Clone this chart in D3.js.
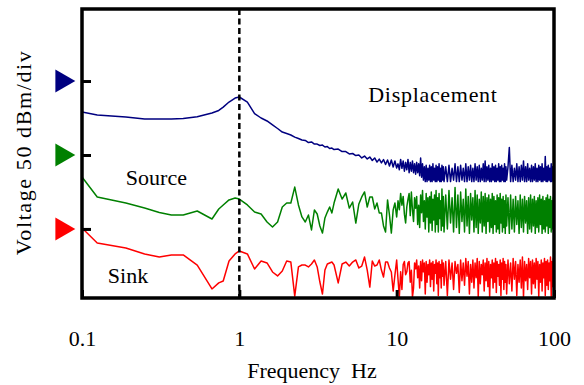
<!DOCTYPE html>
<html>
<head>
<meta charset="utf-8">
<script src="https://cdn.jsdelivr.net/npm/d3@7"></script>
<style>
  body { margin: 0; background: #fff; }
  text { font-family: "Liberation Serif", "Times New Roman", serif; }
</style>
</head>
<body>
<svg id="spectrum" width="584" height="385"></svg>
<script>
// frequency bins (Hz)
const freq = [
    0.1, 0.125, 0.19, 0.25, 0.31, 0.37, 0.44, 0.54, 0.67, 0.74, 0.79, 0.86, 0.94, 1,
    1.125, 1.25, 1.375, 1.5, 1.625, 1.75, 1.875, 2, 2.125, 2.25, 2.375, 2.5, 2.625, 2.75, 2.875, 3,
    3.125, 3.25, 3.375, 3.5, 3.625, 3.75, 3.875, 4,
    4.25, 4.5, 4.75, 5, 5.25, 5.5, 5.75, 6, 6.25, 6.5, 6.75, 7, 7.25, 7.5, 7.75, 8,
    8.25, 8.5, 8.75, 9, 9.25, 9.5, 9.75, 10,
    10.2, 10.4, 10.6, 10.8, 11, 11.2, 11.4, 11.6, 11.8, 12, 12.2, 12.4, 12.6, 12.8, 13, 13.2, 13.4, 13.6, 13.8, 14,
    14.2, 14.4, 14.6, 14.8, 15, 15.2, 15.4, 15.6, 15.8, 16, 16.2, 16.4, 16.6, 16.8, 17, 17.2, 17.4, 17.6, 17.8, 18,
    18.2, 18.4, 18.6, 18.8, 19, 19.2, 19.4, 19.6, 19.8, 20,
    20.5, 21, 21.5, 22, 22.5, 23, 23.5, 24, 24.5, 25, 25.5, 26, 26.5, 27, 27.5, 28, 28.5, 29, 29.5, 30,
    30.5, 31, 31.5, 32, 32.5, 33, 33.5, 34, 34.5, 35, 35.5, 36, 36.5, 37, 37.5, 38, 38.5, 39, 39.5, 40,
    40.5, 41, 41.5, 42, 42.5, 43, 43.5, 44, 44.5, 45, 45.5, 46, 46.5, 47, 47.5, 48, 48.5, 49, 49.5, 50,
    51, 52, 53, 54, 55, 56, 57, 58, 59, 60, 61, 62, 63, 64, 65, 66, 67, 68, 69, 70,
    71, 72, 73, 74, 75, 76, 77, 78, 79, 80, 81, 82, 83, 84, 85, 86, 87, 88, 89, 90,
    91, 92, 93, 94, 95, 96, 97, 98, 99, 100
];

// voltage, dBm
const displacement = [
    -71.0, -73.0, -74.3, -75.7, -75.7, -75.7, -75.3, -74.1, -71.6, -69.9, -67.6, -64.2, -61.5, -60.8,
    -64.2, -72.0, -75.0, -77.0, -79.7, -82.1, -84.5, -85.5, -86.5, -87.9, -88.9, -89.9, -90.2, -91.6, -91.2, -92.6,
    -92.6, -93.6, -93.3, -94.6, -94.3, -95.6, -95.3, -96.3,
    -96.0, -97.7, -97.7, -99.3, -99.0, -100.4, -100.0, -102.0, -100.7, -102.7, -101.4, -103.7, -102.0, -104.8, -102.8, -105.4,
    -103.1, -106.4, -103.4, -107.5, -103.4, -108.1, -104.1, -108.8,
    -106, -110, -103, -109, -104, -111, -105, -110, -103, -112, -105, -111, -104, -112, -106, -113, -105, -112, -106, -114,
    -102, -115, -106, -117, -108, -118, -107, -118, -109, -117, -107, -118, -108, -118, -106, -117, -109, -118, -107, -118,
    -108, -117, -106, -118, -109, -118, -107, -117, -108, -118,
    -108, -118, -107, -118, -109, -117, -106, -118, -108, -118, -107, -117, -109, -118, -106, -118, -108, -117, -107, -118,
    -109, -118, -106, -117, -108, -118, -107, -118, -109, -117, -106, -118, -104, -118, -108, -117, -107, -118, -109, -118,
    -106, -117, -108, -118, -107, -118, -109, -117, -106, -118, -108, -118, -107, -117, -109, -118, -106, -118, -108, -117,
    -108, -95, -118, -107, -118, -109, -117, -106, -118, -108, -118, -107, -117, -104, -118, -108, -118, -106, -117, -109,
    -118, -107, -118, -108, -117, -106, -118, -109, -118, -107, -117, -108, -118, -106, -118, -109, -117, -101, -118, -108,
    -118, -107, -117, -109, -118, -106, -118, -108, -117, -107
];

const source = [
    -114.9, -128.4, -132.5, -135.9, -138.9, -140.6, -140.6, -137.9, -143.3, -136.5, -133.8, -130.4, -129.1, -129.8,
    -133.8, -138.6, -139.9, -145.3, -148.7, -145.3, -135.2, -132.5, -132.5, -121.7, -133.8, -141.9, -145.3, -140.6, -150.7, -137.2,
    -139.9, -148.0, -152.8, -142.6, -138.6, -135.2, -139.2, -132.5,
    -123.0, -129.8, -125.7, -135.9, -131.8, -146.0, -133.1, -128.4, -125.0, -135.2, -128.4, -128.4, -136.5, -132.5, -139.2, -139.2,
    -148.0, -152.1, -130.4, -140.6, -152.8, -137.2, -132.5, -141.9,
    -131, -137, -126, -134, -128, -140, -146, -135, -130, -126, -141, -125, -137, -145, -129, -136, -128, -147, -134, -149,
    -127, -139, -124, -145, -131, -150, -126, -142, -129, -152, -128, -146, -125, -151, -130, -144, -127, -152, -124, -147,
    -129, -152, -126, -143, -131, -151, -123, -148, -128, -152,
    -127, -150, -124, -146, -129, -152, -122, -149, -127, -153, -125, -145, -130, -152, -123, -148, -128, -153, -126, -144,
    -129, -152, -124, -149, -127, -153, -130, -146, -125, -152, -128, -148, -126, -153, -129, -145, -127, -152, -130, -149,
    -126, -153, -128, -147, -131, -152, -127, -150, -129, -153, -126, -146, -130, -152, -128, -149, -131, -153, -127, -148,
    -129, -153, -127, -150, -130, -152, -128, -147, -131, -153, -127, -149, -130, -152, -128, -146, -131, -153, -129, -150,
    -127, -152, -130, -148, -128, -153, -131, -149, -129, -152, -127, -147, -130, -153, -128, -150, -131, -152, -129, -148,
    -127, -153, -130, -149, -128, -152, -131, -150, -129, -153
];

const sink = [
    -149.4, -159.5, -162.9, -166.9, -169.0, -167.6, -167.6, -174.4, -190.6, -186.5, -185.2, -171.7, -166.9, -164.9,
    -166.9, -177.1, -171.7, -173.0, -179.1, -181.8, -178.4, -171.7, -172.4, -195.4, -175.7, -174.4, -174.4, -175.7, -173.7, -171.0,
    -175.7, -185.9, -194.0, -177.8, -173.7, -173.0, -172.4, -174.4,
    -186.5, -173.7, -172.4, -175.1, -172.4, -171.0, -176.4, -175.1, -169.0, -177.8, -189.3, -171.7, -175.1, -174.4, -171.0, -177.8,
    -182.5, -172.4, -172.4, -176.4, -179.1, -192.0, -181.1, -171.0,
    -184, -196, -179, -191, -174, -172, -181, -179, -173, -172, -186, -178, -196, -190, -173, -177, -171, -183, -175, -190,
    -172, -185, -171, -179, -173, -194, -172, -186, -174, -181, -171, -189, -173, -184, -172, -192, -174, -180, -171, -187,
    -173, -195, -172, -183, -174, -190, -171, -182, -173, -188,
    -172, -195, -171, -184, -173, -191, -172, -180, -174, -193, -171, -185, -173, -188, -170, -182, -172, -194, -174, -186,
    -171, -190, -173, -183, -170, -196, -172, -187, -174, -181, -171, -192, -173, -185, -170, -189, -172, -196, -174, -183,
    -171, -190, -173, -186, -170, -193, -172, -182, -174, -188, -171, -195, -173, -184, -170, -191, -172, -186, -174, -194,
    -171, -187, -173, -192, -170, -184, -172, -195, -174, -186, -171, -190, -169, -196, -172, -185, -174, -191, -170, -183,
    -172, -194, -171, -187, -173, -190, -170, -184, -172, -196, -174, -186, -171, -192, -173, -183, -170, -195, -172, -188,
    -171, -191, -173, -185, -169, -196, -172, -189, -170, -193
];

const xTicks = [0.1, 1, 10, 100];
const yTicks = [-50, -100, -150];   // 50 dBm/div, no labels
const seriesNames = ["Displacement", "Source", "Sink"];
const seriesColors = ["#000080", "#008000", "#ff0000"];

(() => {
    const svg = d3.select("#spectrum"),
        margin = { top: 9, right: 30, bottom: 87, left: 82 },
        width = +svg.attr("width") - margin.left - margin.right,
        height = +svg.attr("height") - margin.top - margin.bottom;

    svg.append("rect").attr("width", "100%").attr("height", "100%").attr("fill", "#fff");

    const g = svg.append("g").attr("transform", `translate(${margin.left},${margin.top})`);

    const x = d3.scaleLog().domain([0.1, 100]).range([0, width]);
    const y = d3.scaleLinear().domain([-196.7, -1.3]).range([height, 0]);

    g.append("clipPath").attr("id", "plotClip")
        .append("rect").attr("width", width).attr("height", height);

    // traces
    const line = d3.line().x(d => x(d.f)).y(d => y(d.v));
    [displacement, source, sink].forEach((vals, i) => {
        g.append("path")
            .datum(freq.map((f, j) => ({ f, v: vals[j] })))
            .attr("clip-path", "url(#plotClip)")
            .attr("fill", "none")
            .attr("stroke", seriesColors[i])
            .attr("stroke-width", 1.5)
            .attr("stroke-linejoin", "round")
            .attr("d", line);
    });

    // 1 Hz marker
    g.append("line")
        .attr("x1", x(1)).attr("x2", x(1))
        .attr("y1", 0).attr("y2", height)
        .attr("stroke", "#000")
        .attr("stroke-width", 2.5)
        .attr("stroke-dasharray", "6,3.5");

    // axes, ticks inward
    const xAxis = g.append("g")
        .attr("transform", `translate(0,${height})`)
        .call(d3.axisBottom(x).tickValues(xTicks).tickFormat(d3.format("")).tickSize(-8).tickPadding(32));
    const yAxis = g.append("g")
        .call(d3.axisLeft(y).tickValues(yTicks).tickFormat("").tickSize(-9));
    [xAxis, yAxis].forEach(a => {
        a.select(".domain").remove();
        a.selectAll(".tick line").attr("stroke", "#000").attr("stroke-width", 3);
    });
    xAxis.selectAll(".tick text")
        .attr("font-size", "22px")
        .attr("fill", "#000");

    // frame
    g.append("rect")
        .attr("width", width).attr("height", height)
        .attr("fill", "none")
        .attr("stroke", "#000")
        .attr("stroke-width", 3.5);

    // channel markers on the left
    g.selectAll("path.marker")
        .data(yTicks)
        .enter().append("path")
        .attr("class", "marker")
        .attr("d", d3.symbol(d3.symbolTriangle, 230))
        .attr("transform", d => `translate(-20,${y(d)}) rotate(90)`)
        .attr("fill", (d, i) => seriesColors[i]);

    // labels
    const label = (txt, xPos, yPos) => g.append("text")
        .attr("x", xPos).attr("y", yPos)
        .attr("font-size", "22px")
        .attr("fill", "#000")
        .text(txt);
    label(seriesNames[0], x(6.6), y(-64)).attr("letter-spacing", "0.7px");
    label(seriesNames[1], x(0.19), y(-120.5));
    label(seriesNames[2], x(0.146), y(-186.5));

    svg.append("text")
        .attr("x", 312)
        .attr("y", 378)
        .attr("text-anchor", "middle")
        .attr("font-size", "22px")
        .attr("xml:space", "preserve")
        .text("Frequency  Hz");

    svg.append("text")
        .attr("transform", `translate(31,${margin.top + height / 2 - 1}) rotate(-90)`)
        .attr("text-anchor", "middle")
        .attr("font-size", "22px")
        .attr("letter-spacing", "1.6px")
        .text("Voltage 50 dBm/div");
})();
</script>
</body>
</html>
